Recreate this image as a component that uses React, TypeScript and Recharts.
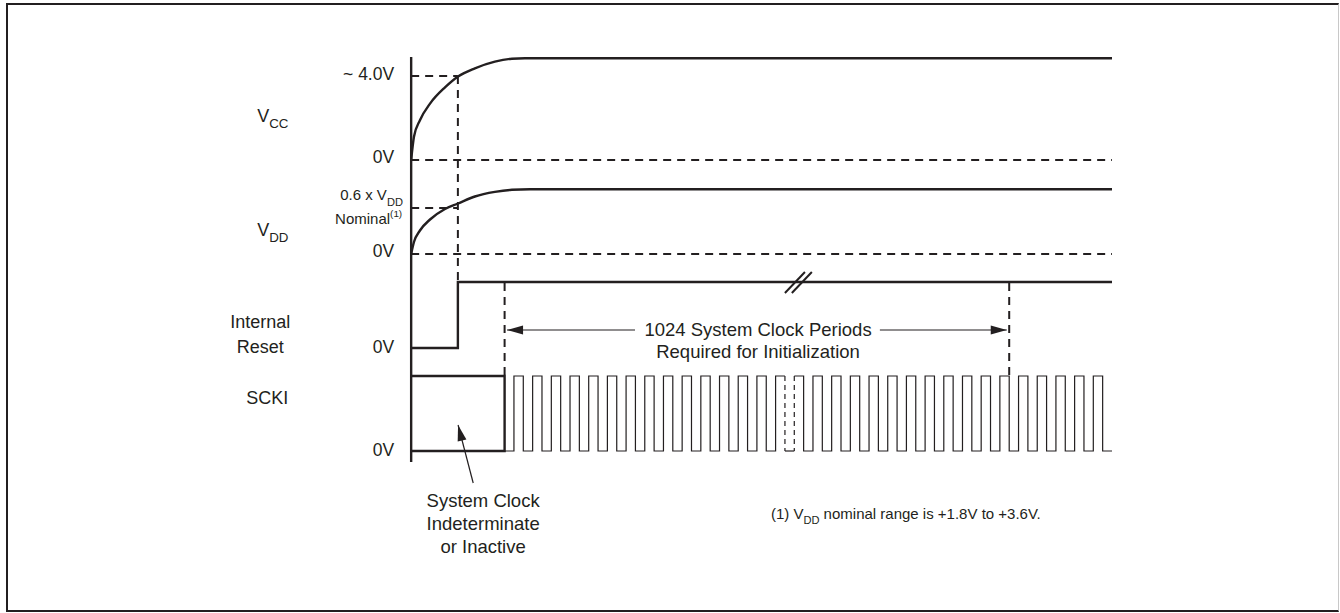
import React from "react";
import { ComposedChart, Line, Scatter, XAxis, YAxis } from "recharts";

const INK = "#231f20";
const FONT = '"Liberation Sans", Arial, Helvetica, sans-serif';

// x: time in SCKI clock periods (0 = supply ramp start); y: diagram row (grows downward)
const vccRamp = [
  { t: 0, y: 16.0 }, { t: 0.15, y: 13.68 }, { t: 0.47, y: 12.02 }, { t: 1.01, y: 10.36 },
  { t: 1.81, y: 8.74 }, { t: 2.51, y: 7.65 }, { t: 3.41, y: 6.83 }, { t: 4.48, y: 6.16 },
  { t: 5.39, y: 5.87 }, { t: 6.09, y: 5.83 }, { t: 37.5, y: 5.83 },
];
const vddRamp = [
  { t: 0, y: 25.4 }, { t: 0.15, y: 24.2 }, { t: 0.47, y: 23.05 }, { t: 1.01, y: 21.95 },
  { t: 1.81, y: 20.9 }, { t: 2.51, y: 20.35 }, { t: 3.41, y: 19.65 }, { t: 4.48, y: 19.19 },
  { t: 5.39, y: 18.98 }, { t: 6.36, y: 18.93 }, { t: 37.5, y: 18.93 },
];
const resetWave = [{ t: 0, y: 34.8 }, { t: 2.5, y: 34.8 }, { t: 2.5, y: 28.2 }, { t: 37.5, y: 28.2 }];
const sckiIdle = [{ t: 0, y: 37.6 }, { t: 5, y: 37.6 }, { t: 5, y: 45.1 }, { t: 0, y: 45.1 }];
const timeAxis = [{ t: 0, y: 5.7 }, { t: 0, y: 46.2 }];

const SCKI_HIGH = 37.6;
const SCKI_LOW = 45.1;
const clockStart = 5;
const clockEnd = 37.5;
const clockGap = [20, 20.5];
const clockRise = [
  5.5, 6.5, 7.5, 8.5, 9.5, 10.5, 11.5, 12.5, 13.5, 14.5, 15.5, 16.5, 17.5, 18.5, 19.5,
  20.5, 21.5, 22.5, 23.5, 24.5, 25.5, 26.5, 27.5, 28.5, 29.5, 30.5, 31.5, 32.5, 33.5, 34.5, 35.5, 36.5,
];
const clockFall = [
  6, 7, 8, 9, 10, 11, 12, 13, 14, 15, 16, 17, 18, 19,
  21, 22, 23, 24, 25, 26, 27, 28, 29, 30, 31, 32, 33, 34, 35, 36, 37,
];

// dashed reference lines
const vcc4Level = [{ t: 0, y: 7.6 }, { t: 2.5, y: 7.6 }];
const vccZero = [{ t: 0, y: 16.0 }, { t: 37.5, y: 16.0 }];
const vddLevel = [{ t: 0, y: 20.8 }, { t: 2.5, y: 20.8 }];
const vddZero = [{ t: 0, y: 25.4 }, { t: 37.5, y: 25.4 }];
const resetMarker = [{ t: 2.5, y: 7.6 }, { t: 2.5, y: 28.2 }];
const initStart = [{ t: 5, y: 28.3 }, { t: 5, y: 37.6 }];
const initEnd = [{ t: 32, y: 28.3 }, { t: 32, y: 37.6 }];
const gapFall = [{ t: 20, y: SCKI_HIGH }, { t: 20, y: SCKI_LOW }];
const gapRise = [{ t: 20.5, y: SCKI_HIGH }, { t: 20.5, y: SCKI_LOW }];
const gapLow = [{ t: 20, y: SCKI_LOW }, { t: 20.5, y: SCKI_LOW }];
const breakA = [{ t: 20.0, y: 29.3 }, { t: 21.07, y: 27.2 }];
const breakB = [{ t: 20.37, y: 29.3 }, { t: 21.44, y: 27.2 }];

// arrows
const arrowLeft = [{ t: 5.13, y: 33.0 }, { t: 11.98, y: 33.0 }];
const arrowRight = [{ t: 25.08, y: 33.0 }, { t: 31.87, y: 33.0 }];
const arrowIdle = [{ t: 3.32, y: 48.3 }, { t: 2.51, y: 42.5 }];
const arrowHeads = [
  { t: 5.13, y: 33.0, angle: 180 },
  { t: 31.87, y: 33.0, angle: 0 },
  { t: 2.51, y: 42.5, angle: -104.4 },
];

// labels
const signalNames = [
  { t: -8.24, y: 12.2, text: "V", sub: "CC" },
  { t: -8.24, y: 23.6, text: "V", sub: "DD" },
  { t: -8.82, y: 40.4, text: "SCKI" },
];
const resetName = [
  { t: -8.07, y: 32.8, text: "Internal" },
  { t: -8.07, y: 35.3, text: "Reset" },
];
const levelLabels = [
  { t: -0.91, y: 7.95, text: "~ 4.0V" },
  { t: -0.91, y: 16.3, text: "0V" },
  { t: -0.91, y: 25.7, text: "0V" },
  { t: -0.91, y: 35.3, text: "0V" },
  { t: -0.91, y: 45.6, text: "0V" },
];
const thresholdLabels = [
  { t: -0.44, y: 20.0, text: "0.6 x V", sub: "DD" },
  { t: -0.48, y: 22.4, text: "Nominal", sup: "(1)" },
];
const noteLabels = [
  { t: 18.56, y: 33.55, text: "1024 System Clock Periods" },
  { t: 18.56, y: 35.75, text: "Required for Initialization" },
  { t: 3.85, y: 50.7, text: "System Clock" },
  { t: 3.85, y: 53.0, text: "Indeterminate" },
  { t: 3.85, y: 55.3, text: "or Inactive" },
];
const footnote = [
  { t: 19.25, y: 51.85, text: "(1) V", sub: "DD", after: " nominal range is +1.8V to +3.6V." },
];

const edges = [
  ...clockRise.map((t) => ({ t, y: SCKI_HIGH })),
  ...clockFall.map((t) => ({ t, y: SCKI_LOW })),
].sort((a, b) => a.t - b.t);
const clockA = [
  { t: clockStart, y: SCKI_LOW },
  ...edges.filter((e) => e.t < clockGap[0]),
  { t: clockGap[0], y: SCKI_HIGH },
];
const clockB = [...edges.filter((e) => e.t >= clockGap[1]), { t: clockEnd, y: SCKI_LOW }];

const wave = (key: string, data: any[], width: number, dash?: string, type: any = "linear") => (
  <Line
    key={key}
    data={data}
    dataKey="y"
    type={type}
    stroke={INK}
    strokeWidth={width}
    strokeDasharray={dash}
    dot={false}
    activeDot={false}
    legendType="none"
    isAnimationActive={false}
  />
);

const makeText = (anchor: string, size: number, subShift = 6) => (p: any) => {
  const d = p.payload;
  return (
    <text x={p.cx} y={p.cy} textAnchor={anchor} fontSize={size} fontFamily={FONT} fill={INK}>
      {d.text}
      {d.sub && (
        <tspan dy={subShift} fontSize={size * 0.74}>
          {d.sub}
        </tspan>
      )}
      {d.after && (
        <tspan dy={-subShift} fontSize={size}>
          {d.after}
        </tspan>
      )}
      {d.sup && (
        <tspan dy={-7} fontSize={size * 0.66}>
          {d.sup}
        </tspan>
      )}
    </text>
  );
};

const ArrowHead = (p: any) => (
  <polygon
    points="0,0 -16,-4.5 -16,4.5"
    fill={INK}
    transform={`translate(${p.cx},${p.cy}) rotate(${p.payload.angle})`}
  />
);

export default function App() {
  return (
    <div style={{ position: "relative", width: 1340, height: 613, background: "#fff" }}>
      <style>{`body{margin:0}`}</style>
      <div
        style={{
          position: "absolute",
          left: 6,
          top: 3,
          width: 1333,
          height: 609,
          boxSizing: "border-box",
          borderLeft: `2px solid ${INK}`,
          borderTop: `2px solid ${INK}`,
          borderBottom: `2px solid ${INK}`,
          borderRight: "1px solid #c8c8c8",
        }}
      />
      <div style={{ position: "absolute", left: 0, top: 0 }}>
        <ComposedChart width={1340} height={613} margin={{ top: 0, right: 0, bottom: 0, left: 0 }}>
          <XAxis type="number" dataKey="t" domain={[-22, 49.7]} allowDataOverflow hide />
          <YAxis type="number" dataKey="y" domain={[0, 61.3]} reversed allowDataOverflow hide />
          {wave("vcc4", vcc4Level, 2, "8 6")}
          {wave("vcc0", vccZero, 2, "8 6")}
          {wave("vdd6", vddLevel, 2, "8 6")}
          {wave("vdd0", vddZero, 2, "8 6")}
          {wave("mark", resetMarker, 2, "8 6")}
          {wave("init0", initStart, 2, "8 6")}
          {wave("init1", initEnd, 2, "8 6")}
          {wave("gapF", gapFall, 1.2, "5 4")}
          {wave("gapR", gapRise, 1.2, "5 4")}
          {wave("gapL", gapLow, 1.2)}
          {wave("axis", timeAxis, 2.4)}
          {wave("vcc", vccRamp, 2.4, undefined, "monotone")}
          {wave("vdd", vddRamp, 2.4, undefined, "monotone")}
          {wave("reset", resetWave, 2.4)}
          {wave("idle", sckiIdle, 2.4)}
          {wave("clkA", clockA, 1.2, undefined, "stepAfter")}
          {wave("clkB", clockB, 1.2, undefined, "stepAfter")}
          {wave("brkA", breakA, 2)}
          {wave("brkB", breakB, 2)}
          {wave("arrL", arrowLeft, 1.2)}
          {wave("arrR", arrowRight, 1.2)}
          {wave("arrI", arrowIdle, 1.2)}
          <Scatter data={arrowHeads} shape={ArrowHead} isAnimationActive={false} legendType="none" />
          <Scatter data={signalNames} shape={makeText("start", 18)} isAnimationActive={false} legendType="none" />
          <Scatter data={resetName} shape={makeText("middle", 18)} isAnimationActive={false} legendType="none" />
          <Scatter data={levelLabels} shape={makeText("end", 17.5)} isAnimationActive={false} legendType="none" />
          <Scatter data={thresholdLabels} shape={makeText("end", 15)} isAnimationActive={false} legendType="none" />
          <Scatter data={noteLabels} shape={makeText("middle", 18.5)} isAnimationActive={false} legendType="none" />
          <Scatter data={footnote} shape={makeText("start", 15, 5)} isAnimationActive={false} legendType="none" />
        </ComposedChart>
      </div>
    </div>
  );
}
